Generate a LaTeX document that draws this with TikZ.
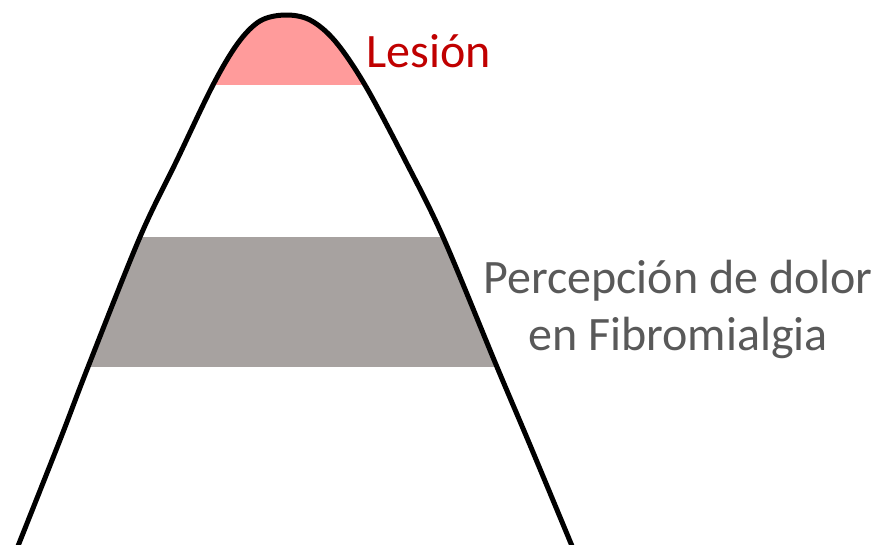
\documentclass[tikz,border=0pt]{standalone}
\usepackage{fontspec}
\setmainfont{Carlito}
\definecolor{pinkband}{HTML}{FF9B9B}
\definecolor{grayband}{HTML}{A7A2A0}
\definecolor{lesred}{HTML}{C00000}
\definecolor{txtgray}{HTML}{595959}
\tikzset{
  bell/.style={line width=5pt, line join=round, line cap=round},
  lbl/.style={inner sep=0pt, font=\fontsize{48}{57}\selectfont}
}
\begin{document}
\begin{tikzpicture}[x=1pt,y=-1pt]
\useasboundingbox (0,0) rectangle (878,544);
\def\bellpath{plot[smooth,tension=0.55] coordinates {(18,546) (60,440) (88,367) (140,237) (177,160) (213,85) (238,43) (260,21) (285,15) (310,20) (335,41) (365,85) (405,160) (443,237) (497,367) (530,445) (572,546)}}
\begin{scope}
  \clip \bellpath -- cycle;
  \fill[pinkband] (0,0) rectangle (878,85);
  \fill[grayband] (0,237) rectangle (878,367);
\end{scope}
\draw[bell] \bellpath;
\node[lbl, text=lesred, anchor=base west] (lesion) at (366,67) {Lesión};
\node[lbl, text=txtgray, align=center, anchor=base] (percep) at (678,350) {Percepción de dolor\\en Fibromialgia};
\end{tikzpicture}
\end{document}
